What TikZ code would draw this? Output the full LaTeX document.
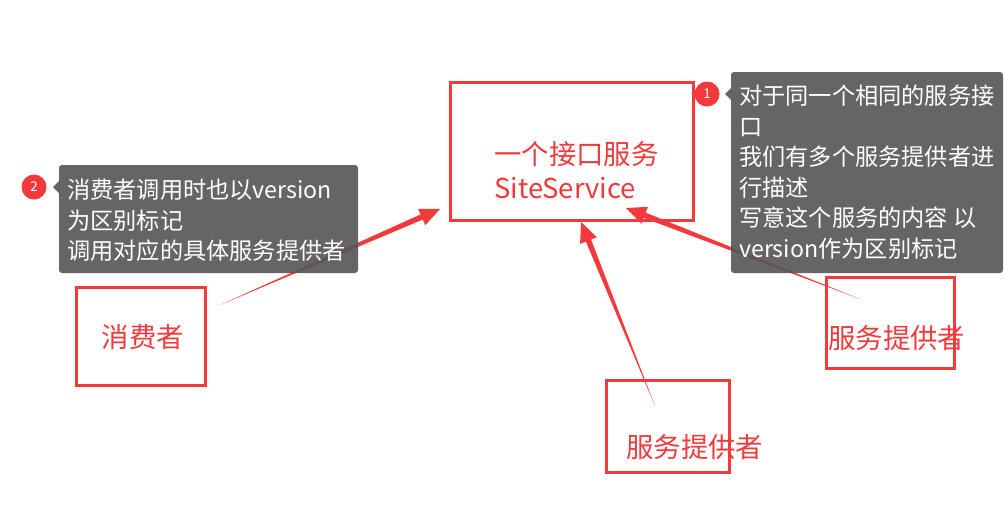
\documentclass[tikz,border=0pt]{standalone}
\usepackage{fontspec}
\newfontfamily\cjk{Noto Sans CJK SC}
\usetikzlibrary{calc}
\definecolor{myred}{RGB}{242,58,60}
\definecolor{tipgray}{RGB}{85,85,85}
\tikzset{
  redbox/.style={draw=myred, line width=3pt, inner sep=0pt},
  redlabel/.style={text=myred, font=\cjk\fontsize{27.4}{34}\selectfont, inner sep=0pt},
  tipbox/.style={fill=tipgray, fill opacity=0.9, rounded corners=3pt},
  tiptext/.style={text=white, font=\cjk\fontsize{23.2}{30.5}\selectfont, align=left, inner sep=0pt, anchor=north west},
  badge/.style={circle, fill=myred, minimum size=25pt, inner sep=0pt, text=white, font=\cjk\fontsize{13.5}{13.5}\selectfont},
}
% tapered arrow: #1 tail, #2 tip
\newcommand\mytaperarrow[2]{%
  \coordinate (hb) at ($(#2)!20pt!(#1)$);
  \fill[myred] (#1) -- ($(hb)!2.8pt!90:(#2)$) -- ($(hb)!9pt!90:(#2)$) -- (#2)
     -- ($(hb)!9pt!-90:(#2)$) -- ($(hb)!2.8pt!-90:(#2)$) -- cycle;
}
\begin{document}
\begin{tikzpicture}[x=1pt,y=-1pt]
\useasboundingbox (0,0) rectangle (1004,515);
\fill[white] (0,0) rectangle (1004,515);

% boxes
\node[redbox, minimum width=243pt, minimum height=138pt] (main) at (571.5,151) {};
\node[redbox, minimum width=129pt, minimum height=98pt] (consumer) at (140.5,336) {};
\node[redbox, minimum width=128pt, minimum height=91pt] (provR) at (890,322.5) {};
\node[redbox, minimum width=123pt, minimum height=92pt] (provB) at (667.5,426) {};

% labels
\node[redlabel, align=left, anchor=west] (maintext) at (494,170) {一个接口服务\\SiteService};
\node[redlabel] (consumertext) at (143,337) {消费者};
\node[redlabel, anchor=west] (provRtext) at (828,338) {服务提供者};
\node[redlabel, anchor=west] (provBtext) at (626,447) {服务提供者};

% connectors
\coordinate (t1) at (220,305); \coordinate (h1) at (440,209);
\coordinate (t2) at (655,406); \coordinate (h2) at (581,222);
\coordinate (t3) at (860,299); \coordinate (h3) at (626,208);
\mytaperarrow{t1}{h1}
\mytaperarrow{t2}{h2}
\mytaperarrow{t3}{h3}

% tooltip 1
\fill[tipbox] (731,72) rectangle (1003,273);
\fill[tipgray, fill opacity=0.9] (731,88) -- (725,94) -- (731,100) -- cycle;
\node[tiptext] (tip1) at (739,85) {对于同一个相同的服务接\\口\\我们有多个服务提供者进\\行描述\\写意这个服务的内容 以\\version作为区别标记};
\node[badge] (b1) at (707,94) {1};

% tooltip 2
\fill[tipbox] (59,165) rectangle (358,273);
\fill[tipgray, fill opacity=0.9] (59,181) -- (53,187) -- (59,193) -- cycle;
\node[tiptext] (tip2) at (67,179) {消费者调用时也以version\\为区别标记\\调用对应的具体服务提供者};
\node[badge] (b2) at (34,187) {2};
\end{tikzpicture}
\end{document}
